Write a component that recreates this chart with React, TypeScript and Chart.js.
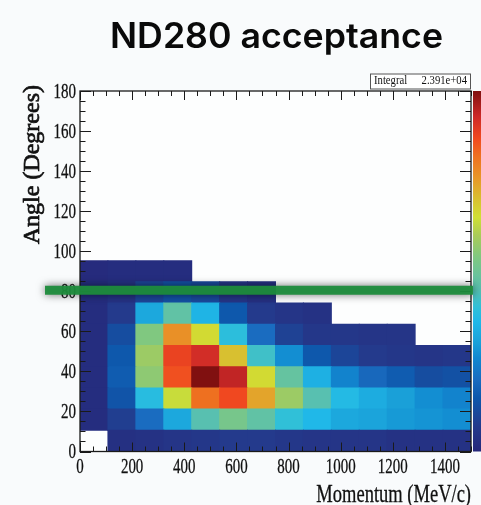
import { useEffect, useRef } from "react";
import { Chart, registerables } from "chart.js";

Chart.register(...registerables);

// ---- data ----
const momentumEdges = [0, 107.14, 214.29, 321.43, 428.57, 535.71, 642.86, 750, 857.14, 964.29, 1071.43, 1178.57, 1285.71, 1392.86, 1500];
const angleEdges = [0, 10.59, 21.18, 31.76, 42.35, 52.94, 63.53, 74.12, 84.71, 95.29];

// counts per angle row (bottom to top), one value per momentum bin
const row0 = [null, 27, 36, 45, 54, 63, 63, 54, 45, 45, 45, 36, 36, 36];
const row1 = [18, 72, 180, 288, 405, 468, 423, 360, 324, 288, 279, 261, 252, 243];
const row2 = [18, 126, 342, 576, 738, 783, 666, 522, 405, 333, 297, 270, 243, 225];
const row3 = [18, 144, 504, 774, 900, 846, 594, 432, 306, 225, 171, 144, 108, 117];
const row4 = [18, 135, 522, 792, 828, 630, 378, 243, 135, 90, 63, 54, 45, 54];
const row5 = [18, 108, 486, 693, 594, 351, 180, 81, 54, 54, 45, 45];
const row6 = [18, 63, 288, 423, 315, 135, 63, 45, 36];
const row7 = [18, 36, 90, 117, 99, 45, 27];
const row8 = [9, 18, 18, 18];
const rows: (number | null)[][] = [row0, row1, row2, row3, row4, row5, row6, row7, row8];

const xTicks = [0, 200, 400, 600, 800, 1000, 1200, 1400];
const yTicks = [0, 20, 40, 60, 80, 100, 120, 140, 160, 180];
const xMinorStep = 50;
const yMinorStep = 5;
const acceptanceAngle = 80.5;

const titleText = "ND280 acceptance";
const xTitle = "Momentum (MeV/c)";
const yTitle = "Angle (Degrees)";
const statsName = "Integral";
const statsValue = "2.391e+04";

// ---- palette ----
const paletteStops: [number, number, number, number][] = [
  [0.0, 38, 40, 122],
  [0.07, 36, 58, 140],
  [0.15, 14, 88, 172],
  [0.2, 26, 108, 192],
  [0.26, 16, 136, 208],
  [0.3, 26, 160, 216],
  [0.36, 32, 184, 232],
  [0.4, 48, 192, 216],
  [0.45, 88, 192, 176],
  [0.54, 128, 200, 128],
  [0.6, 170, 204, 88],
  [0.65, 208, 224, 52],
  [0.7, 216, 192, 48],
  [0.76, 232, 150, 40],
  [0.82, 238, 112, 32],
  [0.87, 240, 72, 32],
  [0.93, 204, 40, 40],
  [1.0, 128, 16, 16],
];

function colorFor(t: number): string {
  const c = Math.max(0, Math.min(1, t));
  for (let i = 1; i < paletteStops.length; i++) {
    const a = paletteStops[i - 1];
    const b = paletteStops[i];
    if (c <= b[0]) {
      const f = (c - a[0]) / (b[0] - a[0]);
      const r = Math.round(a[1] + (b[1] - a[1]) * f);
      const g = Math.round(a[2] + (b[2] - a[2]) * f);
      const bl = Math.round(a[3] + (b[3] - a[3]) * f);
      return `rgb(${r},${g},${bl})`;
    }
  }
  const l = paletteStops[paletteStops.length - 1];
  return `rgb(${l[1]},${l[2]},${l[3]})`;
}

const zMax = Math.max(...rows.flat().map((v) => (v == null ? 0 : v)));

function buildDatasets() {
  return rows.map((row, r) => {
    const data: { x: number; y: [number, number] }[] = [];
    const colors: string[] = [];
    row.forEach((v, i) => {
      if (v == null) return;
      data.push({ x: (momentumEdges[i] + momentumEdges[i + 1]) / 2, y: [angleEdges[r], angleEdges[r + 1]] });
      colors.push(colorFor(v / zMax));
    });
    return {
      label: `row${r}`,
      data,
      backgroundColor: colors,
      borderWidth: 0,
      grouped: false,
      barPercentage: 1,
      categoryPercentage: 1,
      inflateAmount: 0.5,
    };
  });
}

function textCompressed(
  ctx: CanvasRenderingContext2D,
  text: string,
  x: number,
  y: number,
  align: CanvasTextAlign,
  sx: number,
  stroke = 0
) {
  ctx.save();
  ctx.translate(x, y);
  ctx.scale(sx, 1);
  ctx.textAlign = align;
  ctx.textBaseline = "alphabetic";
  ctx.fillText(text, 0, 0);
  if (stroke > 0) {
    ctx.strokeStyle = ctx.fillStyle as string;
    ctx.lineWidth = stroke;
    ctx.strokeText(text, 0, 0);
  }
  ctx.restore();
}

const rootPlugin = {
  id: "rootStyle",
  beforeDraw(chart: any) {
    const { ctx, chartArea: a, width, height } = chart;
    ctx.save();
    ctx.fillStyle = "#f9fbfc";
    ctx.fillRect(0, 0, width, height);
    ctx.fillStyle = "#fdfefe";
    ctx.fillRect(a.left, a.top, a.right - a.left, a.bottom - a.top);
    ctx.restore();
  },
  afterDatasetsDraw(chart: any) {
    const { ctx, chartArea: a, width } = chart;
    const xs = chart.scales.x;
    const ys = chart.scales.y;
    ctx.save();

    // colour bar
    const grad = ctx.createLinearGradient(0, a.bottom, 0, a.top);
    paletteStops.forEach((s) => grad.addColorStop(s[0], `rgb(${s[1]},${s[2]},${s[3]})`));
    ctx.fillStyle = grad;
    ctx.fillRect(a.right + 2, a.top, width - a.right - 2, a.bottom - a.top);

    // ticks
    ctx.strokeStyle = "#1a1a1a";
    ctx.lineWidth = 1;
    const line = (x1: number, y1: number, x2: number, y2: number) => {
      ctx.beginPath();
      ctx.moveTo(x1, y1);
      ctx.lineTo(x2, y2);
      ctx.stroke();
    };
    for (let v = xs.min; v <= xs.max + 1e-6; v += xMinorStep) {
      const px = Math.round(xs.getPixelForValue(v)) + 0.5;
      const len = xTicks.includes(v) ? 9 : 5;
      line(px, a.bottom, px, a.bottom - len);
      line(px, a.top, px, a.top + len);
    }
    for (let v = ys.min; v <= ys.max + 1e-6; v += yMinorStep) {
      const py = Math.round(ys.getPixelForValue(v)) + 0.5;
      const len = yTicks.includes(v) ? 11 : 5.5;
      line(a.left, py, a.left + len, py);
      line(a.right, py, a.right - len, py);
    }

    // frame
    ctx.lineWidth = 1.3;
    ctx.strokeRect(a.left, a.top, a.right - a.left, a.bottom - a.top);

    // tick labels
    ctx.fillStyle = "#111";
    ctx.font = "22px 'Liberation Serif'";
    xs.ticks.forEach((t: any) => {
      textCompressed(ctx, String(t.value), xs.getPixelForValue(t.value), a.bottom + 21, "center", 0.68, 0.3);
    });
    ctx.font = "20px 'Liberation Serif'";
    ys.ticks.forEach((t: any) => {
      textCompressed(ctx, String(t.value), a.left - 4, ys.getPixelForValue(t.value) + 6.7, "right", 0.75, 0.3);
    });

    // axis titles
    ctx.font = "25px 'Liberation Serif'";
    textCompressed(ctx, xTitle, a.right, 502, "right", 0.74, 0.3);
    ctx.save();
    ctx.font = "24px 'Liberation Serif'";
    ctx.translate(38.5, a.top - 6);
    ctx.rotate(-Math.PI / 2);
    ctx.textAlign = "right";
    ctx.textBaseline = "alphabetic";
    ctx.fillText(yTitle, 0, 0);
    ctx.strokeStyle = "#111";
    ctx.lineWidth = 0.7;
    ctx.strokeText(yTitle, 0, 0);
    ctx.restore();

    // stats box
    const bx = a.right - 101;
    const by = a.top - 17.5;
    ctx.fillStyle = "#ffffff";
    ctx.fillRect(bx, by, 101, 15);
    ctx.strokeStyle = "#555";
    ctx.lineWidth = 1;
    ctx.strokeRect(bx + 0.5, by + 0.5, 100, 15);
    ctx.fillStyle = "#111";
    ctx.font = "13px 'Liberation Serif'";
    textCompressed(ctx, statsName, bx + 4, by + 10.5, "left", 0.82);
    textCompressed(ctx, statsValue, bx + 97, by + 10.5, "right", 0.82);

    // acceptance band
    const yb = ys.getPixelForValue(acceptanceAngle);
    ctx.save();
    ctx.lineCap = "butt";
    ctx.shadowColor = "rgba(0,0,0,0.6)";
    ctx.shadowBlur = 8;
    ctx.strokeStyle = "rgba(30,140,60,0.95)";
    ctx.lineWidth = 9;
    line(45, yb, a.right + 2, yb);
    ctx.restore();

    // title
    ctx.font = "600 35px Inter, 'Liberation Sans', sans-serif";
    ctx.fillStyle = "#0a0a0a";
    const w = ctx.measureText(titleText).width;
    textCompressed(ctx, titleText, 276.5, 48, "center", 333 / w);

    ctx.restore();
  },
};

export default function App() {
  const ref = useRef<HTMLCanvasElement>(null);
  useEffect(() => {
    if (!ref.current) return;
    const chart = new Chart(ref.current, {
      type: "bar",
      data: { datasets: buildDatasets() as any },
      options: {
        animation: false,
        responsive: false,
        events: [],
        layout: { padding: { top: 91, right: 10, bottom: 0, left: 0 } },
        plugins: { legend: { display: false }, tooltip: { enabled: false }, title: { display: false } },
        scales: {
          x: {
            type: "linear",
            min: 0,
            max: 1500,
            offset: false,
            grid: { display: false },
            border: { display: false },
            ticks: { display: false },
            afterBuildTicks: (s: any) => {
              s.ticks = xTicks.map((v) => ({ value: v }));
            },
            afterFit: (s: any) => {
              s.height = 53.5;
            },
          },
          y: {
            type: "linear",
            min: 0,
            max: 180,
            grid: { display: false },
            border: { display: false },
            ticks: { display: false },
            afterBuildTicks: (s: any) => {
              s.ticks = yTicks.map((v) => ({ value: v }));
            },
            afterFit: (s: any) => {
              s.width = 80;
            },
          },
        },
      } as any,
      plugins: [rootPlugin],
    });
    return () => chart.destroy();
  }, []);
  return (
    <div style={{ position: "absolute", left: 0, top: 0, width: 481, height: 505 }}>
      <canvas ref={ref} width={481} height={505} style={{ display: "block" }} />
    </div>
  );
}
